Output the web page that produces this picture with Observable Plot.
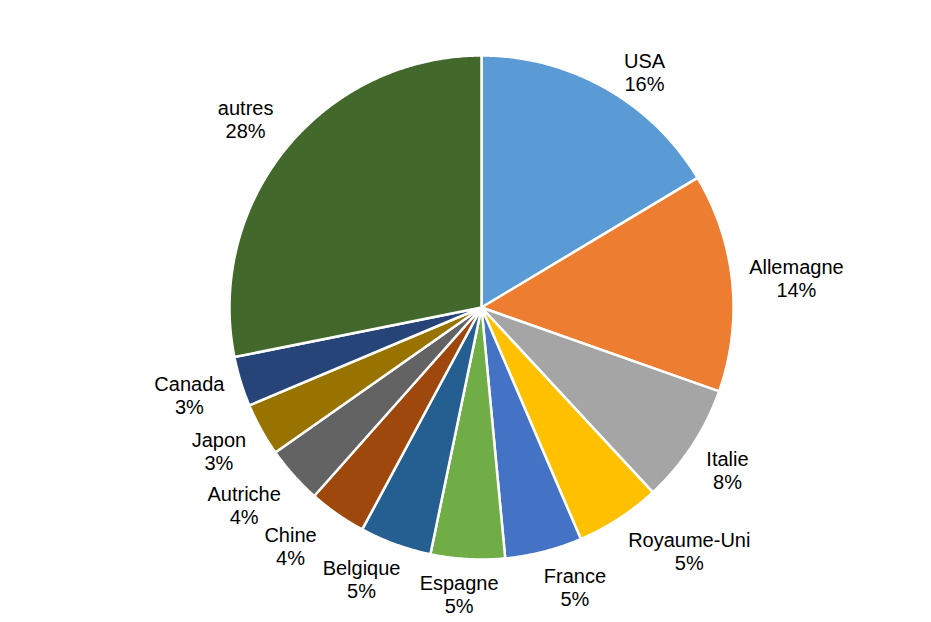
<!DOCTYPE html>
<html>
<head>
<meta charset="utf-8">
<script src="https://cdn.jsdelivr.net/npm/d3@7"></script>
<script src="https://cdn.jsdelivr.net/npm/@observablehq/plot@0.6"></script>
<style>
  html, body { margin: 0; padding: 0; background: #fff; }
</style>
</head>
<body>
<div id="chart"></div>
<script>
const categories = ["USA", "Allemagne", "Italie", "Royaume-Uni", "France", "Espagne", "Belgique", "Chine", "Autriche", "Japon", "Canada", "autres"];
const shares = [16.4, 14.0, 7.7, 5.45, 4.95, 4.75, 4.6, 3.7, 3.7, 3.4, 3.2, 28.15];
const percentLabels = ["16%", "14%", "8%", "5%", "5%", "5%", "5%", "4%", "4%", "3%", "3%", "28%"];
const colors = ["#5B9BD5", "#ED7D31", "#A5A5A5", "#FFC000", "#4472C4", "#70AD47", "#255E91", "#9E480E", "#636363", "#997300", "#264478", "#43682B"];

const W = 931, H = 622;
const cx = 481, cy = 307, R = 252;
const FONT = "Arial, 'Liberation Sans', sans-serif";
const FS = 20;
const total = d3.sum(shares);

const ctx = document.createElement("canvas").getContext("2d");
ctx.font = `${FS}px ${FONT}`;
const clamp = v => Math.max(-1, Math.min(1, v));

// slice polygons (in pixel units relative to centre)
const slicePoints = [];
const labels = [];
let acc = 0;
categories.forEach((cat, i) => {
  const a0 = acc / total * 2 * Math.PI;
  acc += shares[i];
  const a1 = acc / total * 2 * Math.PI;
  slicePoints.push({cat, x: 0, y: 0});
  const n = Math.max(2, Math.ceil((a1 - a0) / (Math.PI / 360)));
  for (let k = 0; k <= n; k++) {
    const a = a0 + (a1 - a0) * k / n;
    slicePoints.push({cat, x: R * Math.sin(a), y: -R * Math.cos(a)});
  }
  slicePoints.push({cat, x: 0, y: 0});

  // label: the box side facing the pie sits on the mid-angle ray just outside the rim
  const am = (a0 + a1) / 2;
  const ux = Math.sin(am), uy = -Math.cos(am);
  const hw = Math.max(ctx.measureText(cat).width, ctx.measureText(percentLabels[i]).width) / 2;
  const hh = 18.5;
  const d = R + 17;
  let lx = d * ux + hw * clamp(3.5 * ux);
  let ly = d * uy + hh * clamp(1.5 * uy);
  const topLimit = 72 - cy;
  if (ly < topLimit) {
    ly = topLimit;
    const D2 = 286;
    lx = Math.sign(ux || 1) * Math.sqrt(D2 * D2 - ly * ly);
  }
  labels.push({cat, x: lx, y: ly, hw, hh, text: cat + "\n" + percentLabels[i]});
});

// simple horizontal collision resolution between label boxes
const padX = 6;
for (let it = 0; it < 30; it++) {
  for (let i = 0; i < labels.length; i++) {
    for (let j = i + 1; j < labels.length; j++) {
      const A = labels[i], B = labels[j];
      const dx = B.x - A.x, dy = B.y - A.y;
      const ox = A.hw + B.hw + padX - Math.abs(dx);
      const oy = A.hh + B.hh - Math.abs(dy);
      if (ox > 0 && oy > 0) {
        const s = Math.sign(dx) || 1;
        A.x -= s * ox / 2; B.x += s * ox / 2;
      }
    }
  }
}

const chart = Plot.plot({
  width: W,
  height: H,
  margin: 0,
  x: {domain: [-cx, W - cx], range: [0, W], axis: null},
  y: {domain: [-cy, H - cy], range: [0, H], axis: null},
  color: {domain: categories, range: colors},
  style: {fontFamily: FONT, background: "#fff"},
  marks: [
    Plot.line(slicePoints, {x: "x", y: "y", z: "cat", fill: "cat", stroke: "#fff", strokeWidth: 2.5, strokeLinejoin: "round", curve: "linear"}),
    Plot.text(labels, {x: "x", y: "y", text: "text", fill: "#000", fontSize: FS, lineHeight: 1.15, textAnchor: "middle"})
  ]
});
document.getElementById("chart").appendChild(chart);
</script>
</body>
</html>
